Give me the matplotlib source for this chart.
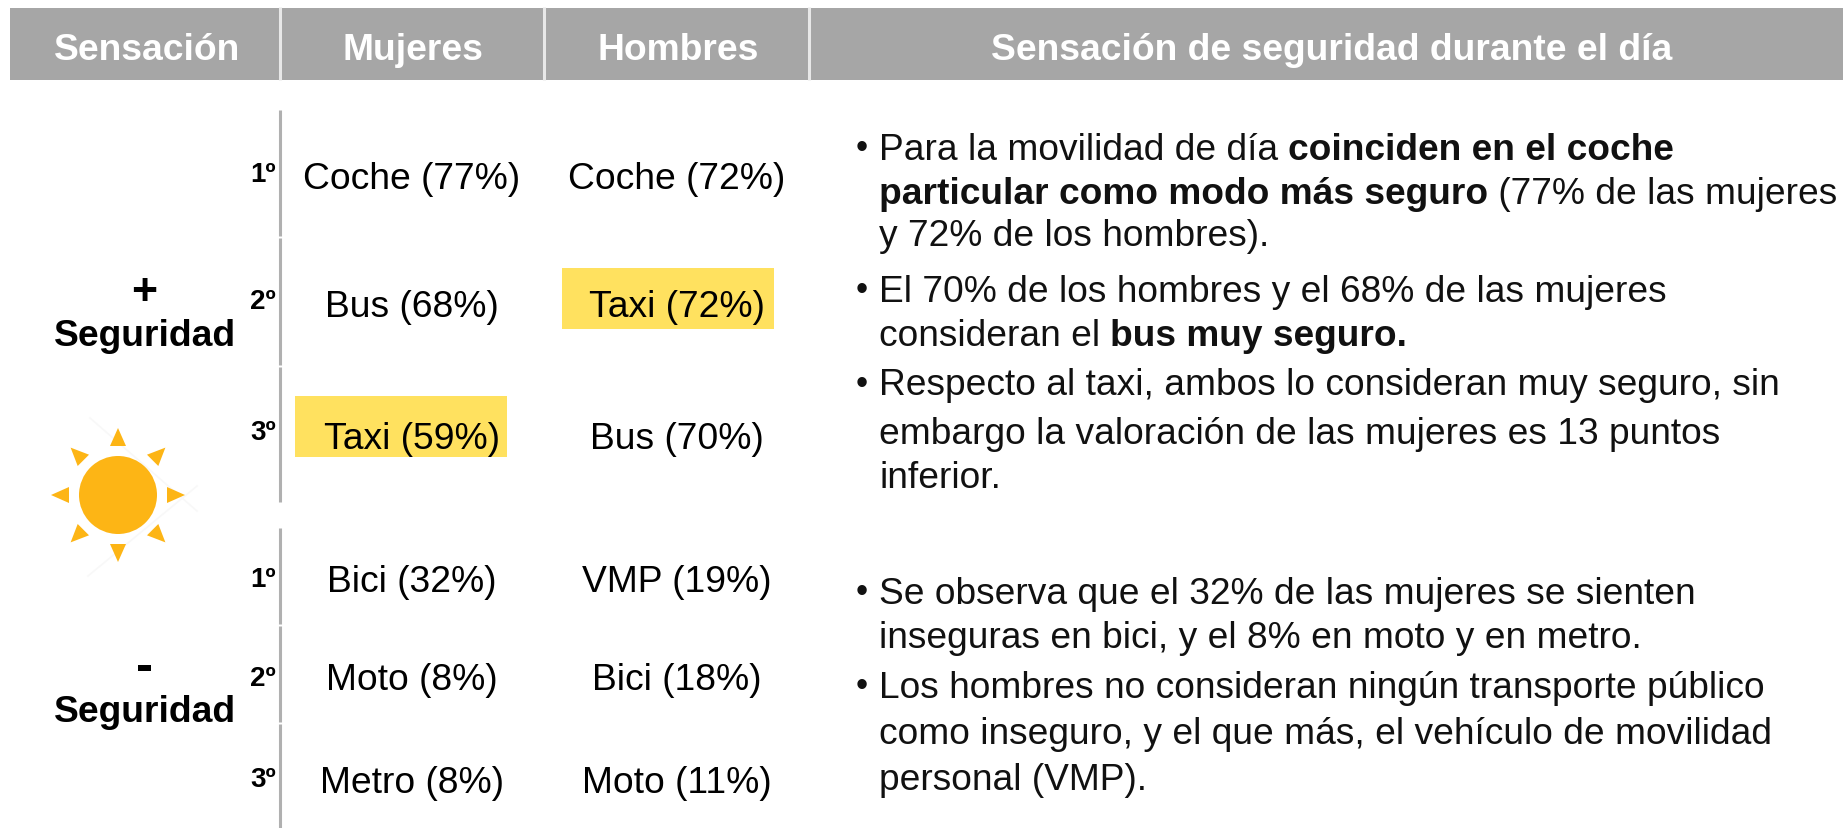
import matplotlib
matplotlib.use("Agg")
import matplotlib.pyplot as plt
from matplotlib.patches import Rectangle, Circle, Polygon
import numpy as np

W, H = 1843, 829
plt.rcParams['font.family'] = ['Liberation Sans', 'DejaVu Sans']

headers = ["Sensación", "Mujeres", "Hombres", "Sensación de seguridad durante el día"]
mujeres = ["Coche (77%)", "Bus (68%)", "Taxi (59%)", "Bici (32%)", "Moto (8%)", "Metro (8%)"]
hombres = ["Coche (72%)", "Taxi (72%)", "Bus (70%)", "VMP (19%)", "Bici (18%)", "Moto (11%)"]
ranks = ["1º", "2º", "3º", "1º", "2º", "3º"]
signs = ["+", "-"]
group_label = "Seguridad"
notes = [
    [[("Para la movilidad de día ", False), ("coinciden en el coche", True)],
     [("particular como modo más seguro", True), (" (77% de las mujeres", False)],
     [("y 72% de los hombres).", False)]],
    [[("El 70% de los hombres y el 68% de las mujeres", False)],
     [("consideran el ", False), ("bus muy seguro.", True)]],
    [[("Respecto al taxi, ambos lo consideran muy seguro, sin", False)],
     [("embargo la valoración de las mujeres es 13 puntos", False)],
     [("inferior.", False)]],
    [[("Se observa que el 32% de las mujeres se sienten", False)],
     [("inseguras en bici, y el 8% en moto y en metro.", False)]],
    [[("Los hombres no consideran ningún transporte público", False)],
     [("como inseguro, y el que más, el vehículo de movilidad", False)],
     [("personal (VMP).", False)]],
]

# layout (pixels)
col_edges = [10, 280, 544, 809, 1843]
header_x = [147, 413, 678, 1331.5]
row_y = [175.5, 303.5, 435.5, 578, 676, 779.5]
rank_y = [172, 298.5, 430.5, 577, 676, 777.5]
note_y = [[146, 190, 232], [288, 332], [381.5, 430, 475], [590, 635], [684, 730, 777]]
rule_spans = [(111, 237), (239, 366), (368, 503), (529, 625), (627, 723), (725, 829)]
GRAY = "#A6A6A6"
YELLOW = "#FFE15F"
RULE = "#B0B0B0"
INK = "#111111"
FS = 26.85
FS_NOTE = 26.78

fig = plt.figure(figsize=(W / 100, H / 100), dpi=100, facecolor="white")
ax = fig.add_axes([0, 0, 1, 1])
ax.set_xlim(0, W)
ax.set_ylim(H, 0)
ax.axis("off")

# header
for i, h in enumerate(headers):
    x0, x1 = col_edges[i], col_edges[i + 1]
    ax.add_patch(Rectangle((x0, 9), x1 - x0, 72, fc=GRAY, ec="none"))
    ax.text(header_x[i], 46, h, color="white", fontsize=FS,
            fontweight="bold", ha="center", va="center_baseline")
for x in col_edges[1:4]:
    ax.plot([x, x], [8, 81], color="#E8E8E8", lw=2.2, solid_capstyle="butt")

# highlights
ax.add_patch(Rectangle((562, 269), 212, 61, fc=YELLOW, ec="none"))
ax.add_patch(Rectangle((295, 397), 212, 61, fc=YELLOW, ec="none"))

# vertical rules
for y0, y1 in rule_spans:
    ax.plot([280, 280], [y0, y1], color=RULE, lw=2.2, solid_capstyle="butt")

# table
for i in range(6):
    ax.text(412, row_y[i], mujeres[i], fontsize=FS, ha="center", va="center_baseline", color="black")
    ax.text(677, row_y[i], hombres[i], fontsize=FS, ha="center", va="center_baseline", color="black")
    ax.text(276, rank_y[i], ranks[i], fontsize=20, fontweight="bold", ha="right",
            va="center_baseline", color="black")

# group labels
ax.text(144, 289, signs[0], fontsize=32, fontweight="bold", ha="center", va="center_baseline")
ax.text(145, 332, group_label, fontsize=FS, fontweight="bold", ha="center", va="center_baseline")
ax.text(144, 662, signs[1], fontsize=37, fontweight="bold", ha="center", va="center_baseline")
ax.text(145, 708, group_label, fontsize=FS, fontweight="bold", ha="center", va="center_baseline")

# sun
SUN = "#FDB515"
cx, cy, r = 118, 496, 39
ax.plot([90, 197], [419, 512], color="#F8F8F8", lw=1.2, zorder=1)
ax.plot([197, 88], [487, 577], color="#F8F8F8", lw=1.2, zorder=1)
ax.add_patch(Circle((cx, cy), r, fc=SUN, ec="none", zorder=2))
for a in np.arange(0, 360, 45):
    t = np.deg2rad(a)
    u = np.array([np.cos(t), np.sin(t)])
    v = np.array([-u[1], u[0]])
    c = np.array([cx, cy])
    ax.add_patch(Polygon([c + u * 49 + v * 8, c + u * 49 - v * 8, c + u * 67], fc=SUN, ec="none", zorder=2))


def advance(s, bold, rend):
    """Width of s including leading and trailing spaces."""
    w = "bold" if bold else "normal"
    a = ax.text(0, 0, "x" + s + "x", fontsize=FS_NOTE, fontweight=w)
    b = ax.text(0, 0, "xx", fontsize=FS_NOTE, fontweight=w)
    d = a.get_window_extent(rend).width - b.get_window_extent(rend).width
    a.remove()
    b.remove()
    return d


# notes with mixed weights
fig.canvas.draw()
rend = fig.canvas.get_renderer()
for para, ys in zip(notes, note_y):
    ax.text(856, ys[0] - 1, "•", fontsize=25, ha="left", va="center_baseline", color=INK)
    for line, y in zip(para, ys):
        x = 879
        for s, bold in line:
            ax.text(x, y, s, fontsize=FS_NOTE, ha="left", va="center_baseline", color=INK,
                    fontweight="bold" if bold else "normal")
            x += advance(s, bold, rend)

fig.savefig("out.png", dpi=100, facecolor="white")
